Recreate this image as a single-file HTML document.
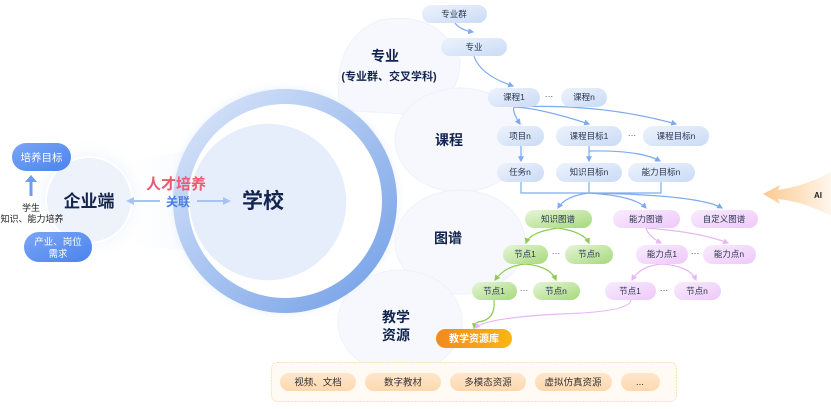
<!DOCTYPE html>
<html><head><meta charset="utf-8"><style>
html,body{margin:0;padding:0;background:#fff;}
svg{display:block;font-family:"Liberation Sans","Noto Sans CJK SC",sans-serif;}
</style></head><body>
<svg width="831" height="409" viewBox="0 0 831 409" xmlns="http://www.w3.org/2000/svg">
<defs>
<linearGradient id="pb" x1="0" y1="0" x2="1" y2="1"><stop offset="0" stop-color="#eef3fc"/><stop offset="1" stop-color="#c9dbf6"/></linearGradient>
<linearGradient id="pg" x1="0" y1="0" x2="1" y2="1"><stop offset="0" stop-color="#e6f5d8"/><stop offset="1" stop-color="#a6d97a"/></linearGradient>
<linearGradient id="pp" x1="0" y1="0" x2="1" y2="1"><stop offset="0" stop-color="#f8ecfd"/><stop offset="1" stop-color="#eec8fa"/></linearGradient>
<linearGradient id="po" x1="0" y1="0" x2="1" y2="0"><stop offset="0" stop-color="#f18a1e"/><stop offset="1" stop-color="#fbb514"/></linearGradient>
<linearGradient id="pbl" x1="0" y1="0" x2="1" y2="1"><stop offset="0" stop-color="#7aa6f5"/><stop offset="1" stop-color="#4a82ef"/></linearGradient>
<linearGradient id="ring" x1="0" y1="0" x2="1" y2="1"><stop offset="0" stop-color="#dfe9fa"/><stop offset="1" stop-color="#6f9de6"/></linearGradient>
<linearGradient id="ai" x1="0" y1="0" x2="1" y2="0"><stop offset="0" stop-color="#fcc98e"/><stop offset="1" stop-color="#fff6ec"/></linearGradient>
<linearGradient id="res" x1="0" y1="0" x2="0" y2="1"><stop offset="0" stop-color="#ffe7cc"/><stop offset="1" stop-color="#fdd8ae"/></linearGradient>
<linearGradient id="wedge" x1="0" y1="0" x2="1" y2="0"><stop offset="0" stop-color="#f6f9fe" stop-opacity="0"/><stop offset="1" stop-color="#eef3fc"/></linearGradient>
<radialGradient id="halo"><stop offset="0.6" stop-color="#eef3fc"/><stop offset="1" stop-color="#ffffff" stop-opacity="0"/></radialGradient>
<radialGradient id="rhalo"><stop offset="0.85" stop-color="#dbe6f9"/><stop offset="1" stop-color="#ffffff" stop-opacity="0"/></radialGradient>
<marker id="ab" viewBox="0 0 10 10" refX="8" refY="5" markerWidth="5" markerHeight="5" orient="auto"><path d="M0,0L10,5L0,10z" fill="#7eabef"/></marker>
<marker id="ag" viewBox="0 0 10 10" refX="8" refY="5" markerWidth="5" markerHeight="5" orient="auto"><path d="M0,0L10,5L0,10z" fill="#8ccc4e"/></marker>
<marker id="ap" viewBox="0 0 10 10" refX="8" refY="5" markerWidth="5" markerHeight="5" orient="auto"><path d="M0,0L10,5L0,10z" fill="#e9b6f6"/></marker>
</defs>

<!-- petals -->
<g fill="#f6f8fd" stroke="#eef2fa" stroke-width="1">
<path d="M340,110 Q330,40 380,20 Q440,10 460,60 Q460,100 420,115 Z"/>
<ellipse cx="460" cy="140" rx="65" ry="52"/>
<ellipse cx="460" cy="242" rx="65" ry="52"/>
<ellipse cx="400" cy="322" rx="62" ry="52"/>
</g>
<path d="M130,160 L230,145 L230,255 L130,245 Z" fill="url(#wedge)"/>

<!-- enterprise circle -->
<circle cx="89" cy="200" r="62" fill="url(#halo)"/>
<circle cx="89" cy="200" r="43" fill="#edf2fb" stroke="#ffffff" stroke-width="2"/>
<text x="89" y="207" font-size="17" font-weight="bold" fill="#13254f" text-anchor="middle">企业端</text>

<rect x="12" y="143" width="59" height="28" rx="14" fill="url(#pbl)"/>
<text x="41.5" y="161" font-size="10.5" fill="#fff" text-anchor="middle">培养目标</text>
<rect x="24" y="232" width="68" height="30" rx="15" fill="url(#pbl)"/>
<text x="58" y="245" font-size="9.5" fill="#fff" text-anchor="middle">产业、岗位</text>
<text x="58" y="257" font-size="9.5" fill="#fff" text-anchor="middle">需求</text>
<path d="M31,196 L31,180" stroke="#6e9cef" stroke-width="3"/>
<path d="M25,182 L31,175 L37,182 Z" fill="#6e9cef"/>
<text x="31" y="211" font-size="9" fill="#222" text-anchor="middle">学生</text>
<text x="32" y="222" font-size="9" fill="#222" text-anchor="middle">知识、能力培养</text>

<!-- school ring -->
<circle cx="285" cy="201" r="122" fill="url(#rhalo)"/>
<circle cx="285" cy="201" r="112" fill="url(#ring)"/>
<circle cx="285" cy="201" r="97" fill="#ffffff"/>
<circle cx="268" cy="202" r="79" fill="#e6eefb" stroke="#fff" stroke-width="1.5"/>
<text x="263" y="208" font-size="21" font-weight="bold" fill="#13254f" text-anchor="middle">学校</text>

<!-- 人才培养 关联 -->
<path d="M132,201 L160,201" stroke="#a9c3f0" stroke-width="2"/>
<path d="M126,201 L134,197 L134,205 Z" fill="#a9c3f0"/>
<path d="M197,201 L225,201" stroke="#a9c3f0" stroke-width="2"/>
<path d="M231,201 L223,197 L223,205 Z" fill="#a9c3f0"/>
<text x="176" y="189" font-size="15" font-weight="bold" fill="#ec5a6e" text-anchor="middle">人才培养</text>
<text x="178" y="206" font-size="12" font-weight="bold" fill="#4a7fe0" text-anchor="middle">关联</text>

<!-- section labels -->
<g fill="#13254f" font-weight="bold" text-anchor="middle">
<text x="385" y="61" font-size="14">专业</text>
<text x="389" y="80" font-size="11">(专业群、交叉学科)</text>
<text x="449" y="145" font-size="14">课程</text>
<text x="448" y="243" font-size="14">图谱</text>
<text x="396" y="322" font-size="14">教学</text>
<text x="396" y="340" font-size="14">资源</text>
</g>

<!-- blue connectors -->
<g fill="none" stroke="#7eabef" stroke-width="1.2">
<path d="M455,23 Q460,30 473,32" marker-end="url(#ab)"/>
<path d="M474,56 Q480,75 513,86" marker-end="url(#ab)"/>
<path d="M514,107 Q512,112 520,124" marker-end="url(#ab)"/>
<path d="M514,107 Q540,108 589,124" marker-end="url(#ab)"/>
<path d="M514,107 Q600,103 676,124" marker-end="url(#ab)"/>
<path d="M521,146 L521,161" marker-end="url(#ab)"/>
<path d="M589,146 L589,161" marker-end="url(#ab)"/>
<path d="M589,151 Q640,150 660,161" marker-end="url(#ab)"/>
<path d="M521,182 L521,193 L661,193 L661,182 M589,182 L589,193"/>
<path d="M589,193 Q565,196 558,208" marker-end="url(#ab)"/>
<path d="M589,193 Q635,196 646,208" marker-end="url(#ab)"/>
<path d="M589,193 Q700,195 722,208" marker-end="url(#ab)"/>
</g>
<!-- green connectors -->
<g fill="none" stroke="#8ccc4e" stroke-width="1.2">
<path d="M558,228 Q530,232 526,243" marker-end="url(#ag)"/>
<path d="M558,228 Q584,232 589,243" marker-end="url(#ag)"/>
<path d="M525,264 Q505,266 495,280" marker-end="url(#ag)"/>
<path d="M525,264 Q550,266 556,280" marker-end="url(#ag)"/>
<path d="M494,300 Q496,320 478,322 Q475,323 474,328" marker-end="url(#ag)"/>
</g>
<!-- pink connectors -->
<g fill="none" stroke="#e9b6f6" stroke-width="1.2">
<path d="M646,228 Q648,236 661,243" marker-end="url(#ap)"/>
<path d="M646,228 Q700,232 728,243" marker-end="url(#ap)"/>
<path d="M662,264 Q640,266 632,280" marker-end="url(#ap)"/>
<path d="M662,264 Q690,266 696,280" marker-end="url(#ap)"/>
<path d="M631,300 Q630,312 560,314 Q485,318 475,328" marker-end="url(#ap)"/>
</g>

<!-- nodes -->
<g font-size="8.5" fill="#2a3550" text-anchor="middle">
<rect x="422" y="5" width="65" height="18" rx="9" fill="url(#pb)"/><text x="454" y="17">专业群</text>
<rect x="441" y="38" width="66" height="18" rx="9" fill="url(#pb)"/><text x="474" y="50">专业</text>
<rect x="488" y="88" width="52" height="19" rx="9.5" fill="url(#pb)"/><text x="514" y="100">课程1</text>
<text x="549" y="99">···</text>
<rect x="561" y="88" width="46" height="19" rx="9.5" fill="url(#pb)"/><text x="584" y="100">课程n</text>
<rect x="497" y="126" width="47" height="20" rx="10" fill="url(#pb)"/><text x="520" y="139">项目n</text>
<rect x="556" y="126" width="66" height="20" rx="10" fill="url(#pb)"/><text x="589" y="139">课程目标1</text>
<text x="632" y="138">···</text>
<rect x="643" y="126" width="66" height="20" rx="10" fill="url(#pb)"/><text x="676" y="139">课程目标n</text>
<rect x="497" y="163" width="47" height="19" rx="9.5" fill="url(#pb)"/><text x="520" y="175">任务n</text>
<rect x="556" y="163" width="66" height="19" rx="9.5" fill="url(#pb)"/><text x="589" y="175">知识目标n</text>
<rect x="628" y="163" width="67" height="19" rx="9.5" fill="url(#pb)"/><text x="661" y="175">能力目标n</text>

<rect x="525" y="210" width="67" height="18" rx="9" fill="url(#pg)"/><text x="558" y="222">知识图谱</text>
<rect x="613" y="210" width="67" height="18" rx="9" fill="url(#pp)"/><text x="646" y="222">能力图谱</text>
<rect x="691" y="210" width="67" height="18" rx="9" fill="url(#pp)"/><text x="724" y="222">自定义图谱</text>
<rect x="503" y="245" width="45" height="19" rx="9.5" fill="url(#pg)"/><text x="525" y="257">节点1</text>
<text x="556" y="256">···</text>
<rect x="565" y="245" width="48" height="19" rx="9.5" fill="url(#pg)"/><text x="589" y="257">节点n</text>
<rect x="636" y="245" width="52" height="19" rx="9.5" fill="url(#pp)"/><text x="662" y="257">能力点1</text>
<text x="695" y="256">···</text>
<rect x="703" y="245" width="53" height="19" rx="9.5" fill="url(#pp)"/><text x="729" y="257">能力点n</text>
<rect x="472" y="282" width="45" height="18" rx="9" fill="url(#pg)"/><text x="494" y="294">节点1</text>
<text x="524" y="293">···</text>
<rect x="533" y="282" width="47" height="18" rx="9" fill="url(#pg)"/><text x="556" y="294">节点n</text>
<rect x="605" y="282" width="51" height="18" rx="9" fill="url(#pp)"/><text x="630" y="294">节点1</text>
<text x="664" y="293">···</text>
<rect x="674" y="282" width="47" height="18" rx="9" fill="url(#pp)"/><text x="697" y="294">节点n</text>
</g>

<rect x="436" y="329" width="76" height="19" rx="9.5" fill="url(#po)"/>
<text x="474" y="342" font-size="10" font-weight="bold" fill="#fff" text-anchor="middle">教学资源库</text>

<!-- resources container -->
<rect x="271.5" y="362.5" width="405" height="39" rx="6" fill="#fffaf3" stroke="#fde0bb" stroke-dasharray="2,1"/>
<g font-size="9.5" fill="#333" text-anchor="middle">
<rect x="280" y="373" width="76" height="18" rx="9" fill="url(#res)"/><text x="318" y="385.5">视频、文档</text>
<rect x="365" y="373" width="76" height="18" rx="9" fill="url(#res)"/><text x="403" y="385.5">数字教材</text>
<rect x="450" y="373" width="76" height="18" rx="9" fill="url(#res)"/><text x="488" y="385.5">多模态资源</text>
<rect x="535" y="373" width="77" height="18" rx="9" fill="url(#res)"/><text x="573" y="385.5">虚拟仿真资源</text>
<rect x="621" y="373" width="39" height="18" rx="9" fill="url(#res)"/><text x="640" y="385">...</text>
</g>

<!-- AI arrow -->
<path d="M763,194 L780,185 L778,190 Q805,186 831,172 L831,216 Q805,202 778,199 L780,204 Z" fill="url(#ai)"/>
<text x="818" y="198" font-size="8" font-weight="bold" fill="#222" text-anchor="middle">AI</text>
</svg>
</body></html>
